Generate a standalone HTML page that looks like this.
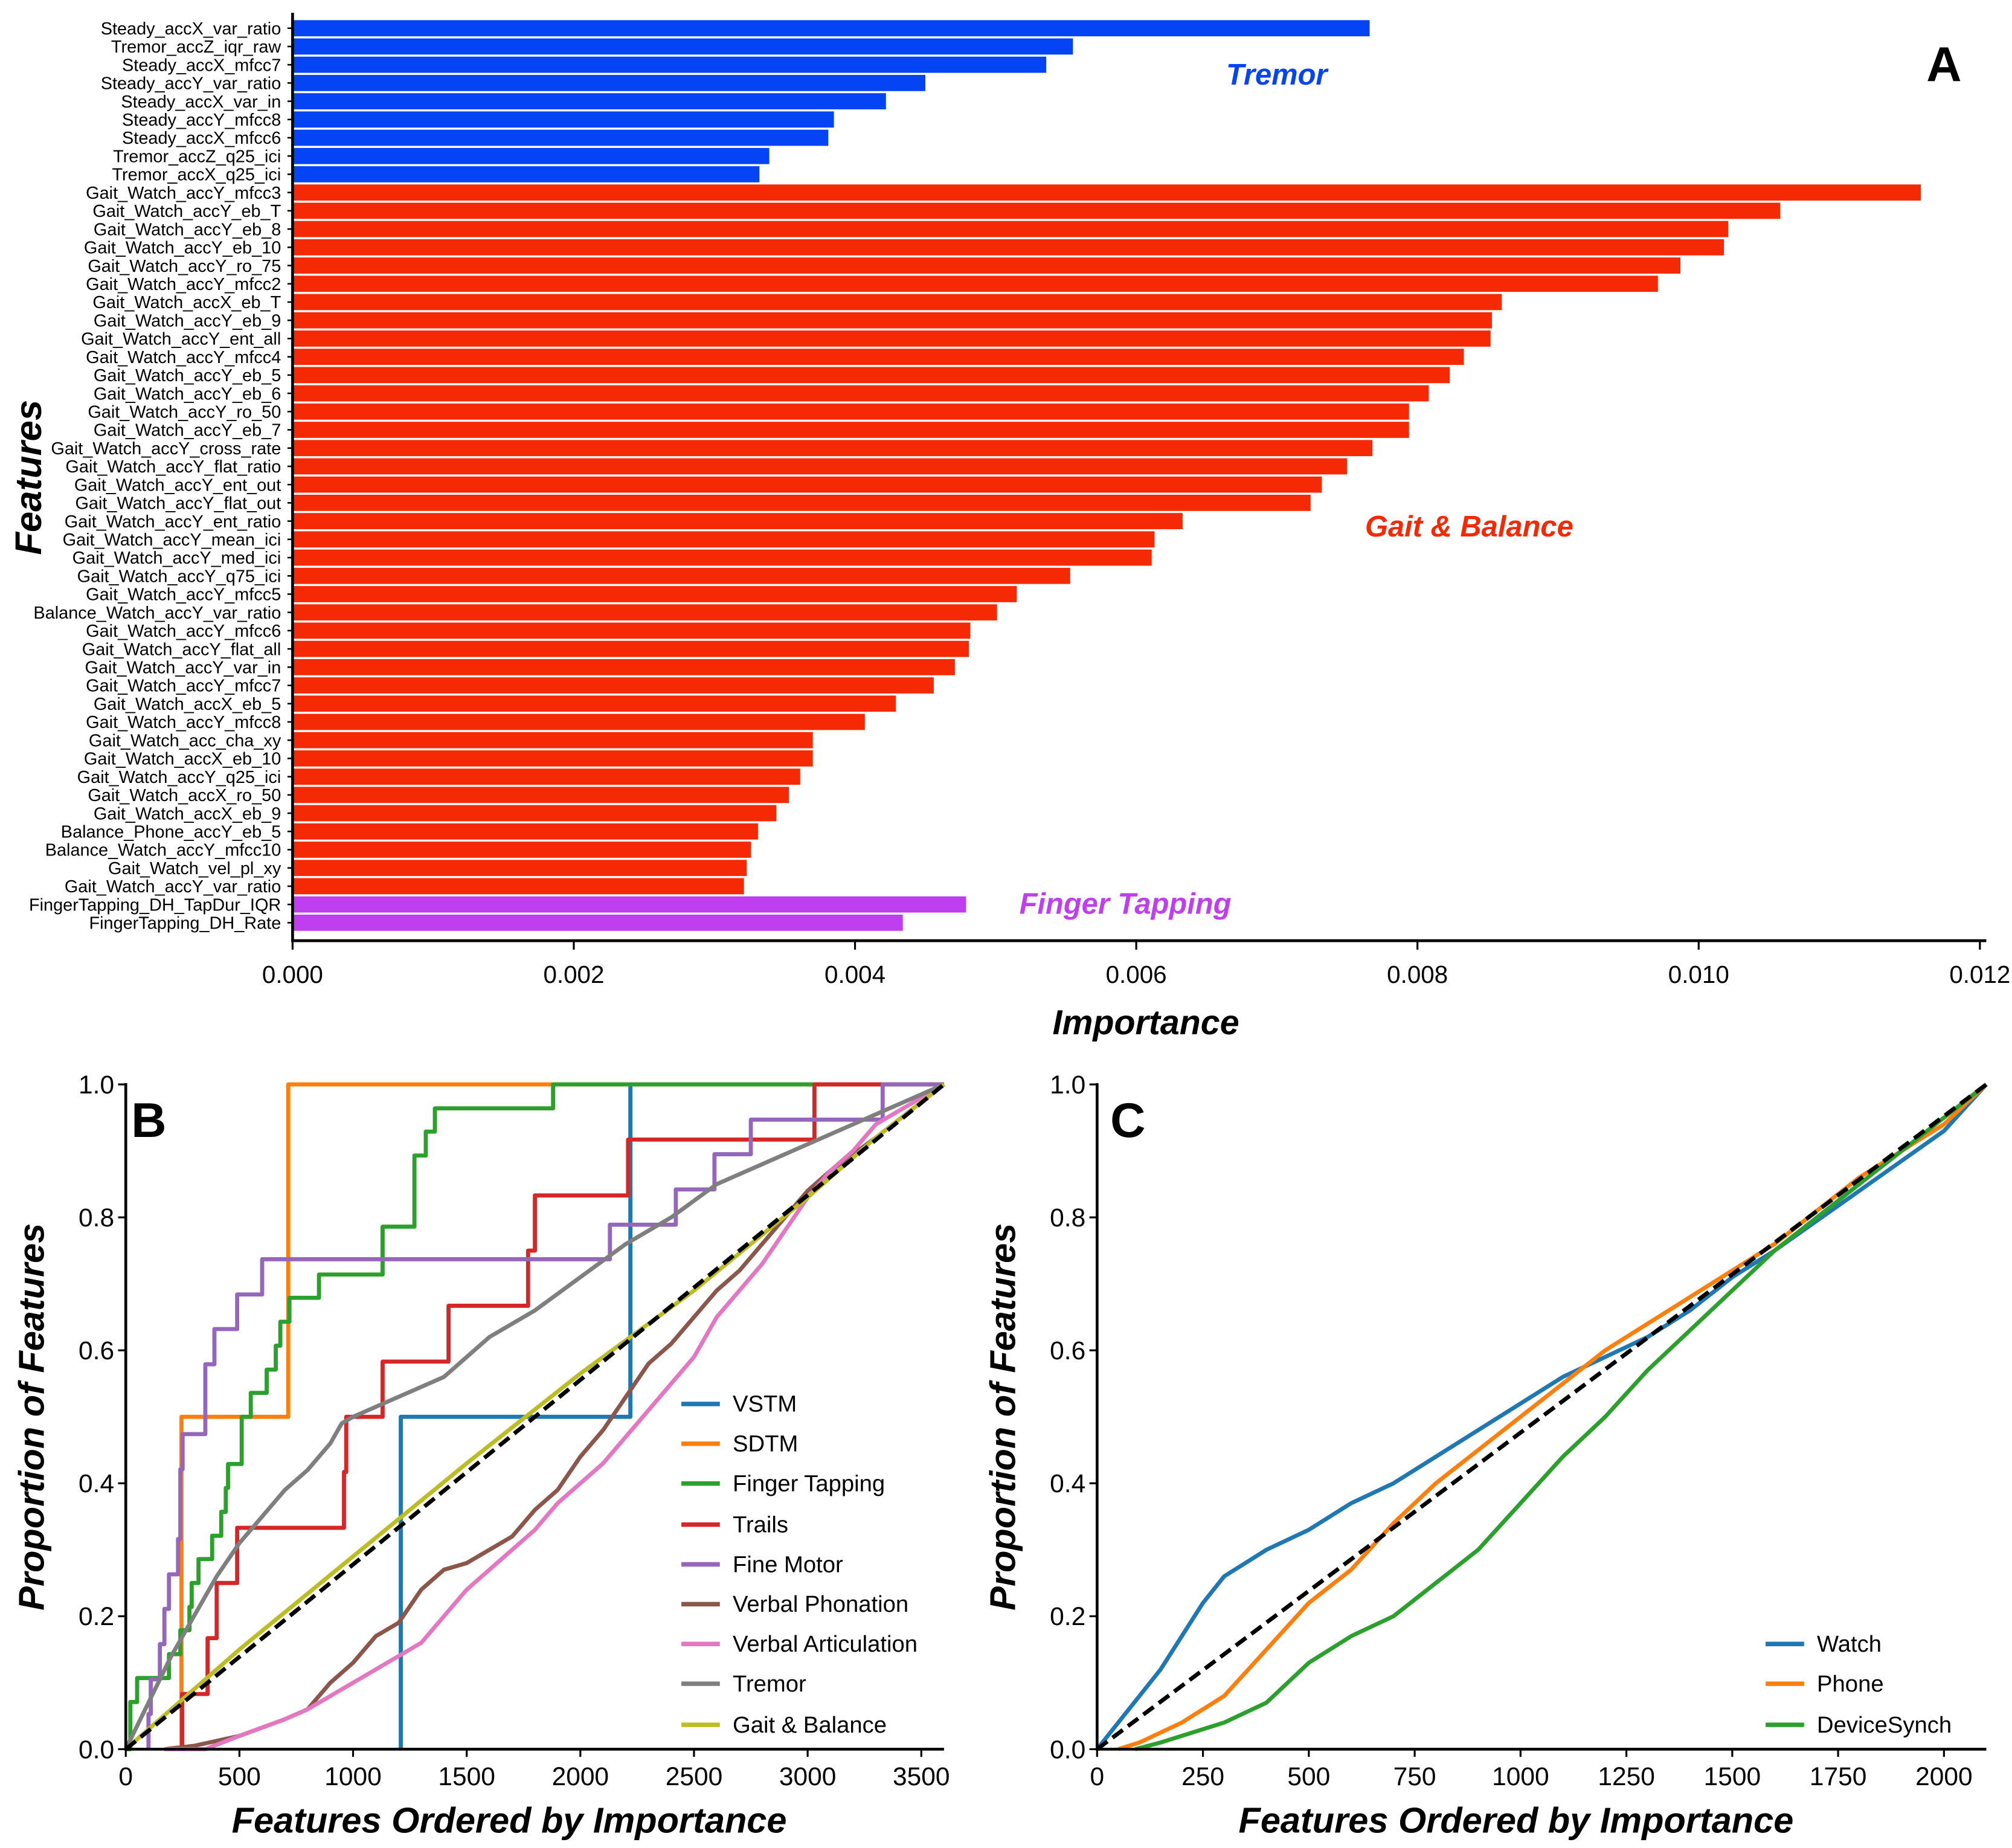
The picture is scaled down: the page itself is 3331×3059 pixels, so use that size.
<!DOCTYPE html>
<html><head><meta charset="utf-8"><style>
html,body{margin:0;padding:0;background:#fff;}
svg{display:block;font-family:"Liberation Sans",sans-serif;}
</style></head><body>
<svg id="fig" width="3331" height="3059" viewBox="0 0 1568 1440" xmlns="http://www.w3.org/2000/svg"></svg>
<script>
// ---------- Panel A data ----------
const featureNames = ["Steady_accX_var_ratio","Tremor_accZ_iqr_raw","Steady_accX_mfcc7","Steady_accY_var_ratio","Steady_accX_var_in","Steady_accY_mfcc8","Steady_accX_mfcc6","Tremor_accZ_q25_ici","Tremor_accX_q25_ici",
"Gait_Watch_accY_mfcc3","Gait_Watch_accY_eb_T","Gait_Watch_accY_eb_8","Gait_Watch_accY_eb_10","Gait_Watch_accY_ro_75","Gait_Watch_accY_mfcc2","Gait_Watch_accX_eb_T","Gait_Watch_accY_eb_9","Gait_Watch_accY_ent_all","Gait_Watch_accY_mfcc4","Gait_Watch_accY_eb_5","Gait_Watch_accY_eb_6","Gait_Watch_accY_ro_50","Gait_Watch_accY_eb_7","Gait_Watch_accY_cross_rate","Gait_Watch_accY_flat_ratio","Gait_Watch_accY_ent_out","Gait_Watch_accY_flat_out","Gait_Watch_accY_ent_ratio","Gait_Watch_accY_mean_ici","Gait_Watch_accY_med_ici","Gait_Watch_accY_q75_ici","Gait_Watch_accY_mfcc5","Balance_Watch_accY_var_ratio","Gait_Watch_accY_mfcc6","Gait_Watch_accY_flat_all","Gait_Watch_accY_var_in","Gait_Watch_accY_mfcc7","Gait_Watch_accX_eb_5","Gait_Watch_accY_mfcc8","Gait_Watch_acc_cha_xy","Gait_Watch_accX_eb_10","Gait_Watch_accY_q25_ici","Gait_Watch_accX_ro_50","Gait_Watch_accX_eb_9","Balance_Phone_accY_eb_5","Balance_Watch_accY_mfcc10","Gait_Watch_vel_pl_xy","Gait_Watch_accY_var_ratio",
"FingerTapping_DH_TapDur_IQR","FingerTapping_DH_Rate"];
const importance = [0.00766,0.00555,0.00536,0.0045,0.00422,0.00385,0.00381,0.00339,0.00332,
0.01158,0.01058,0.01021,0.01018,0.00987,0.00971,0.0086,0.00853,0.00852,0.00833,0.00823,0.00808,0.00794,0.00794,0.00768,0.0075,0.00732,0.00724,0.00633,0.00613,0.00611,0.00553,0.00515,0.00501,0.00482,0.00481,0.00471,0.00456,0.00429,0.00407,0.0037,0.0037,0.00361,0.00353,0.00344,0.00331,0.00326,0.00323,0.00321,
0.00479,0.00434];
const featureGroup = [0,0,0,0,0,0,0,0,0, 1,1,1,1,1,1,1,1,1,1,1,1,1,1,1,1,1,1,1,1,1,1,1,1,1,1,1,1,1,1,1,1,1,1,1,1,1,1,1, 2,2];
const xTicksA = [0,0.002,0.004,0.006,0.008,0.010,0.012];
const xTickLabelsA = ["0.000","0.002","0.004","0.006","0.008","0.010","0.012"];

// ---------- Panel B data ----------
const seriesNamesB = ["VSTM","SDTM","Finger Tapping","Trails","Fine Motor","Verbal Phonation","Verbal Articulation","Tremor","Gait & Balance"];
const vstmX=[1210,1210,2220,2220,3600], vstmY=[0,0.5,0.5,1,1];
const sdtmX=[245,245,715,715,3600], sdtmY=[0,0.5,0.5,1,1];
const fingerX=[0,20,20,50,50,190,190,240,240,280,280,290,290,320,320,380,380,420,420,440,440,450,450,510,510,550,550,620,620,660,660,680,680,720,720,850,850,1130,1130,1270,1270,1320,1320,1360,1360,1880,1880,3600];
const fingerY=[0,0,0.071,0.071,0.107,0.107,0.143,0.143,0.179,0.179,0.214,0.214,0.25,0.25,0.286,0.286,0.321,0.321,0.357,0.357,0.393,0.393,0.429,0.429,0.5,0.5,0.536,0.536,0.571,0.571,0.607,0.607,0.643,0.643,0.679,0.679,0.714,0.714,0.786,0.786,0.893,0.893,0.929,0.929,0.964,0.964,1,1];
const trailsX=[248,248,360,360,400,400,490,490,960,960,970,970,1130,1130,1420,1420,1770,1770,1800,1800,2210,2210,3030,3030,3600];
const trailsY=[0,0.083,0.083,0.167,0.167,0.25,0.25,0.333,0.333,0.417,0.417,0.5,0.5,0.583,0.583,0.667,0.667,0.75,0.75,0.833,0.833,0.917,0.917,1,1];
const fineX=[100,100,110,110,150,150,170,170,190,190,230,230,240,240,250,250,350,350,390,390,490,490,600,600,700,700,2130,2130,2420,2420,2590,2590,2750,2750,3330,3330,3600];
const fineY=[0,0.053,0.053,0.105,0.105,0.158,0.158,0.211,0.211,0.263,0.263,0.316,0.316,0.421,0.421,0.474,0.474,0.579,0.579,0.632,0.632,0.684,0.684,0.737,0.737,0.737,0.737,0.789,0.789,0.842,0.842,0.895,0.895,0.947,0.947,1,1];
const phonX=[170,300,500,700,800,900,1000,1100,1200,1300,1400,1500,1600,1700,1800,1900,2000,2100,2200,2300,2400,2500,2600,2700,2800,2900,3000,3100,3300,3600];
const phonY=[0,0.005,0.02,0.045,0.06,0.1,0.13,0.17,0.19,0.24,0.27,0.28,0.3,0.32,0.36,0.39,0.44,0.48,0.53,0.58,0.61,0.65,0.69,0.72,0.76,0.8,0.84,0.87,0.92,1];
const artX=[170,350,500,700,800,900,1000,1100,1200,1300,1400,1500,1600,1700,1800,1900,2000,2100,2200,2300,2400,2500,2600,2700,2800,2900,3000,3100,3200,3300,3600];
const artY=[0,0,0.02,0.045,0.06,0.08,0.1,0.12,0.14,0.16,0.2,0.24,0.27,0.3,0.33,0.37,0.4,0.43,0.47,0.51,0.55,0.59,0.65,0.69,0.73,0.78,0.83,0.87,0.9,0.94,1];
const tremorX=[0,100,200,300,400,500,600,700,800,900,950,1000,1200,1400,1600,1800,2000,2200,2400,2600,2800,3000,3200,3400,3600];
const tremorY=[0,0.07,0.14,0.2,0.26,0.31,0.35,0.39,0.42,0.46,0.49,0.5,0.53,0.56,0.62,0.66,0.71,0.76,0.8,0.85,0.88,0.91,0.94,0.97,1];
const gaitX=[0,500,1000,1500,2000,2500,3000,3300,3600];
const gaitY=[0,0.15,0.29,0.43,0.565,0.69,0.83,0.92,1];
const xTicksB=[0,500,1000,1500,2000,2500,3000,3500];
const yTicks=[0,0.2,0.4,0.6,0.8,1.0];
const yTickLabels=["0.0","0.2","0.4","0.6","0.8","1.0"];

// ---------- Panel C data ----------
const seriesNamesC=["Watch","Phone","DeviceSynch"];
const watchX=[0,50,100,150,200,250,300,350,400,500,600,700,800,900,1000,1100,1200,1300,1400,1500,1600,1800,2000,2100];
const watchY=[0,0.04,0.08,0.12,0.17,0.22,0.26,0.28,0.3,0.33,0.37,0.4,0.44,0.48,0.52,0.56,0.59,0.62,0.66,0.71,0.75,0.84,0.93,1];
const phoneX=[50,100,200,300,400,500,600,700,800,900,1000,1100,1200,1300,1400,1500,1600,1800,2000,2100];
const phoneY=[0,0.01,0.04,0.08,0.15,0.22,0.27,0.34,0.4,0.45,0.5,0.55,0.6,0.64,0.68,0.72,0.76,0.86,0.94,1];
const synchX=[90,150,200,300,400,500,600,700,800,900,1000,1100,1200,1300,1400,1500,1600,1800,2000,2100];
const synchY=[0,0.01,0.02,0.04,0.07,0.13,0.17,0.2,0.25,0.3,0.37,0.44,0.5,0.57,0.63,0.69,0.75,0.85,0.95,1];
const xTicksC=[0,250,500,750,1000,1250,1500,1750,2000];

const NS="http://www.w3.org/2000/svg";
const svg=document.getElementById('fig');
function el(tag,attrs,parent,text){const e=document.createElementNS(NS,tag);for(const k in attrs)e.setAttribute(k,attrs[k]);if(text!==undefined)e.textContent=text;(parent||svg).appendChild(e);return e;}

// ===== Panel A =====
const gA=el('g',{});


const ax0=228, ax1=1543, xmaxA=0.012;
const xA=v=>ax0+(v/xmaxA)*(ax1-ax0);
const yA0=22, yStep=(719-22)/49;
const yA=i=>yA0+i*yStep;
const groupColors=["#0444f4","#f52a04","#bf3ff0"];
featureNames.forEach((n,i)=>{
  const r=el('rect',{x:xA(0),y:yA(i)-6.3,width:xA(importance[i])-xA(0),height:12.6,fill:groupColors[featureGroup[i]]},gA);
  
  
  el('line',{x1:ax0-4,x2:ax0,y1:yA(i),y2:yA(i),stroke:'#000','stroke-width':1.2},gA);
  const t=el('text',{x:ax0-9,y:yA(i)+4.8,'text-anchor':'end','font-size':13.6},gA,n);
  
  
});
el('line',{x1:ax0,x2:ax0,y1:10,y2:734,stroke:'#000','stroke-width':2.2},gA);
el('line',{x1:ax0-1,x2:1548,y1:733,y2:733,stroke:'#000','stroke-width':2.2},gA);
xTicksA.forEach((v,i)=>{
  el('line',{x1:xA(v),x2:xA(v),y1:733,y2:740,stroke:'#000','stroke-width':1.5},gA);
  const t=el('text',{x:xA(v),y:766,'text-anchor':'middle','font-size':19},gA,xTickLabelsA[i]);
  
  
});
let t;
t=el('text',{x:893,y:806,'text-anchor':'middle','font-size':27,'font-weight':'bold','font-style':'italic'},gA,'Importance');

t=el('text',{x:0,y:0,'text-anchor':'middle','font-size':29,'font-weight':'bold','font-style':'italic',transform:'translate(32,372) rotate(-90)'},gA,'Features');

t=el('text',{x:1515,y:63,'text-anchor':'middle','font-size':38,'font-weight':'bold'},gA,'A');

t=el('text',{x:995,y:66,'text-anchor':'middle','font-size':23,'font-weight':'bold','font-style':'italic',fill:'#0444f4'},gA,'Tremor');

t=el('text',{x:1145,y:418,'text-anchor':'middle','font-size':23,'font-weight':'bold','font-style':'italic',fill:'#f52a04'},gA,'Gait & Balance');

t=el('text',{x:877,y:712,'text-anchor':'middle','font-size':23,'font-weight':'bold','font-style':'italic',fill:'#bf3ff0'},gA,'Finger Tapping');


// ===== line panels =====
function linePanel(name,px0,px1,xmax,xTicks,series,legendX,legendYs,label,labelX){
  const g=el('g',{});
  
  
  const py0=1363, py1=845;
  const X=v=>px0+(v/xmax)*(px1-px0);
  const Y=v=>py0+v*(py1-py0);
  series.forEach(s=>{
    const d=s.x.map((v,i)=>(i?'L':'M')+X(v).toFixed(2)+' '+Y(s.y[i]).toFixed(2)).join(' ');
    const p=el('path',{d:d,fill:'none',stroke:s.c,'stroke-width':3.2,'stroke-linejoin':'round'},g);
    
    
  });
  const dl=el('line',{x1:X(0),y1:Y(0),x2:X(xmax),y2:Y(1),stroke:'#000','stroke-width':3.2,'stroke-dasharray':'10,5'},g);
  
  
  el('line',{x1:px0,x2:px0,y1:py1-1,y2:py0+1,stroke:'#000','stroke-width':2.2},g);
  el('line',{x1:px0-1,x2:px1,y1:py0,y2:py0,stroke:'#000','stroke-width':2.2},g);
  xTicks.forEach(v=>{
    el('line',{x1:X(v),x2:X(v),y1:py0,y2:py0+6,stroke:'#000','stroke-width':1.5},g);
    const tt=el('text',{x:X(v),y:py0+28,'text-anchor':'middle','font-size':20},g,String(v));
    
  });
  yTicks.forEach((v,i)=>{
    el('line',{x1:px0-6,x2:px0,y1:Y(v),y2:Y(v),stroke:'#000','stroke-width':1.5},g);
    const tt=el('text',{x:px0-9,y:Y(v)+7,'text-anchor':'end','font-size':20},g,yTickLabels[i]);
    
  });
  let tt=el('text',{x:(px0+px1)/2-20,y:1428,'text-anchor':'middle','font-size':28,'font-weight':'bold','font-style':'italic'},g,'Features Ordered by Importance');
  
  tt=el('text',{x:0,y:0,'text-anchor':'middle','font-size':28,'font-weight':'bold','font-style':'italic',transform:`translate(${px0-64},1104) rotate(-90)`},g,'Proportion of Features');
  
  tt=el('text',{x:labelX,y:886,'text-anchor':'middle','font-size':38,'font-weight':'bold'},g,label);
  
  series.forEach((s,i)=>{
    const lg=el('g',{},g);
    
    
    el('line',{x1:legendX,x2:legendX+30,y1:legendYs[i],y2:legendYs[i],stroke:s.c,'stroke-width':3.5},lg);
    el('text',{x:legendX+40,y:legendYs[i]+6,'font-size':18},lg,s.n);
  });
}
const cB=["#1f77b4","#ff7f0e","#2ca02c","#d62728","#9467bd","#8c564b","#e377c2","#7f7f7f","#bcbd22"];
const xsB=[vstmX,sdtmX,fingerX,trailsX,fineX,phonX,artX,tremorX,gaitX];
const ysB=[vstmY,sdtmY,fingerY,trailsY,fineY,phonY,artY,tremorY,gaitY];
const seriesB=seriesNamesB.map((n,i)=>({n:n,c:cB[i],x:xsB[i],y:ysB[i]}));
linePanel('panel-b-line-chart',98,735.7,3600,xTicksB,seriesB,531,[1094,1125,1156,1188,1219,1250,1281,1312,1344],'B',116);
const cC=["#1f77b4","#ff7f0e","#2ca02c"];
const seriesC=[{n:seriesNamesC[0],c:cC[0],x:watchX,y:watchY},{n:seriesNamesC[1],c:cC[1],x:phoneX,y:phoneY},{n:seriesNamesC[2],c:cC[2],x:synchX,y:synchY}];
linePanel('panel-c-line-chart',855,1548,2100,xTicksC,seriesC,1376,[1281,1312,1344],'C',879);
</script>
</body></html>
